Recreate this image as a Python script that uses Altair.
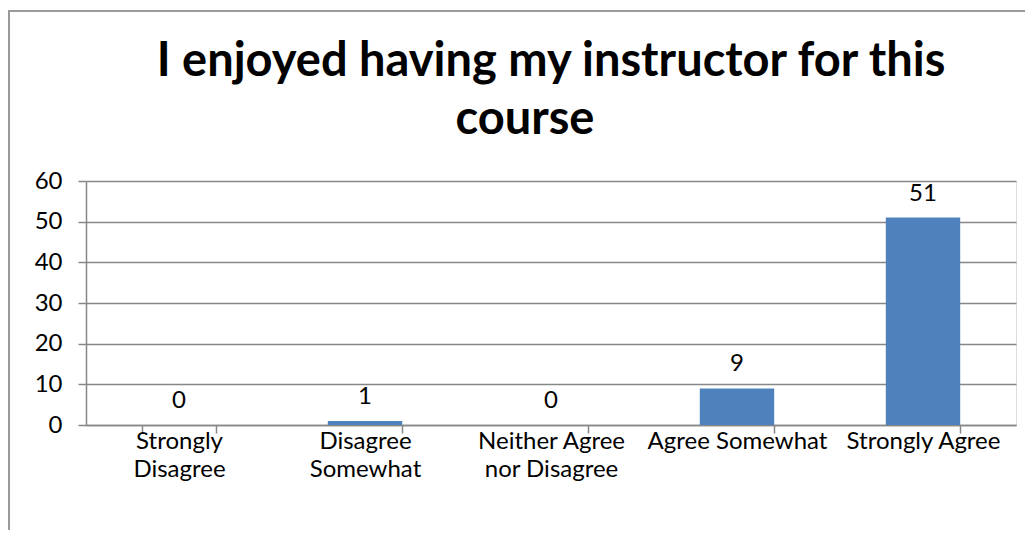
import json
import altair as alt
import pandas as pd

categories = ["Strongly Disagree", "Disagree Somewhat", "Neither Agree nor Disagree",
              "Agree Somewhat", "Strongly Agree"]
label_lines = [["Strongly", "Disagree"], ["Disagree", "Somewhat"],
               ["Neither Agree", "nor Disagree"], ["Agree Somewhat"], ["Strongly Agree"]]
counts = [0, 1, 0, 9, 51]
title_lines = ["I enjoyed having my instructor for this", "course"]

df = pd.DataFrame({"cat": categories, "n": counts})
one = pd.DataFrame({"k": [0]})

expr = "datum.label"
for c, lines in reversed(list(zip(categories, label_lines))):
    expr = f"datum.label == {json.dumps(c)} ? {json.dumps(lines)} : ({expr})"

FONT = "Lato"
GRAY = "#878787"
FS = 24

x_enc = alt.X("cat:N", sort=categories, title=None,
              scale=alt.Scale(paddingInner=0.6, paddingOuter=0.3),
              axis=alt.Axis(labelAngle=0, tickBand="extent", labelExpr=expr,
                            labelFontSize=FS, labelFont=FONT, labelColor="black",
                            labelPadding=-4, labelLineHeight=28, labelBaseline="top",
                            tickSize=8, tickColor=GRAY, domainColor=GRAY,
                            domainWidth=1.5, tickWidth=1.5, grid=False))
y_enc = alt.Y("n:Q", title=None,
              scale=alt.Scale(domain=[0, 60], nice=False),
              axis=alt.Axis(values=[0, 10, 20, 30, 40, 50, 60], labelFontSize=FS,
                            labelFont=FONT, labelColor="black", labelPadding=16,
                            tickSize=8, tickColor=GRAY, domainColor=GRAY,
                            domainWidth=1.5, tickWidth=1.5, gridColor=GRAY,
                            gridWidth=1.5))

bars = alt.Chart(df).mark_bar(color="#4F81BD").encode(x=x_enc, y=y_enc)
labels = alt.Chart(df).mark_text(font=FONT, fontSize=FS, color="black",
                                 baseline="middle", dy=-24).encode(
    x=alt.X("cat:N", sort=categories), y="n:Q", text="n:Q")

title_style = dict(font=FONT, fontSize=47, fontWeight="bold", color="black",
                   baseline="alphabetic", align="center")
title1 = alt.Chart(one).mark_text(text=title_lines[0], **title_style).encode(
    x=alt.value(465), y=alt.value(-105))
title2 = alt.Chart(one).mark_text(text=title_lines[1], **title_style).encode(
    x=alt.value(439), y=alt.value(-47))

frame_top = alt.Chart(one).mark_rule(color="#9a9a9a", strokeWidth=2).encode(
    x=alt.value(-78), x2=alt.value(1100), y=alt.value(-170))
frame_left = alt.Chart(one).mark_rule(color="#9a9a9a", strokeWidth=2).encode(
    x=alt.value(-77), y=alt.value(-171), y2=alt.value(400))

chart = alt.layer(frame_top, frame_left, bars, labels, title1, title2).properties(
    width=930, height=244,
    autosize=alt.AutoSizeParams(type="none"),
    padding={"left": 78, "top": 173, "right": 9, "bottom": 105},
).configure_view(stroke=None).configure(background="white")

chart.save("out.html", embed_options={"renderer": "svg", "actions": False})
